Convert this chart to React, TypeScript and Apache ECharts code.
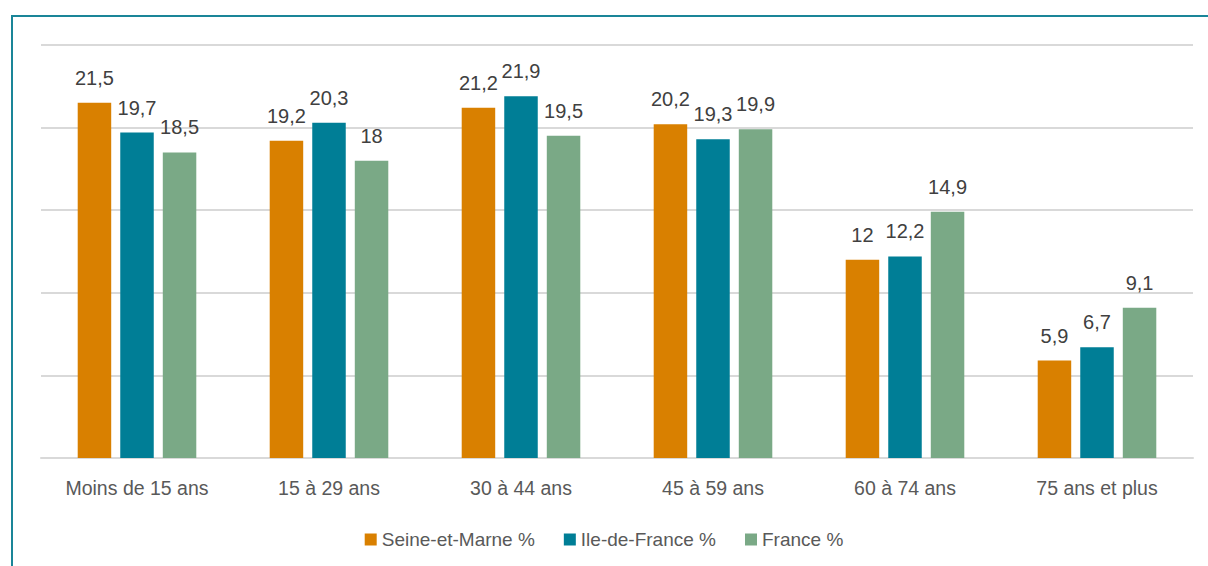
import React, { useEffect, useRef } from "react";
import * as echarts from "echarts";

// Age groups and shares (%) per territory
const categories = [
  "Moins de 15 ans",
  "15 à 29 ans",
  "30 à 44 ans",
  "45 à 59 ans",
  "60 à 74 ans",
  "75 ans et plus",
];
const seineEtMarne = [21.5, 19.2, 21.2, 20.2, 12, 5.9];
const ileDeFrance = [19.7, 20.3, 21.9, 19.3, 12.2, 6.7];
const france = [18.5, 18, 19.5, 19.9, 14.9, 9.1];

const seriesNames = ["Seine-et-Marne %", "Ile-de-France %", "France %"];
const colors = ["#D98000", "#007E96", "#7AA986"];

const FONT = "'Liberation Sans', Arial, sans-serif";

export default function App() {
  const ref = useRef<HTMLDivElement>(null);

  useEffect(() => {
    if (!ref.current) return;
    const chart = echarts.init(ref.current, undefined, { renderer: "svg" });
    const valueLabel = {
      show: true,
      position: "top",
      distance: 15,
      color: "#404040",
      fontFamily: FONT,
      fontSize: 20,
      formatter: (p: any) => String(p.value).replace(".", ","),
    };
    const makeSeries = (name: string, data: number[], color: string) => ({
      name,
      type: "bar",
      data,
      barWidth: 33.5,
      barGap: "27%",
      itemStyle: { color },
      label: valueLabel,
    });
    chart.setOption({
      animation: false,
      backgroundColor: "#ffffff",
      color: colors,
      grid: { left: 41, right: 15, top: 45, bottom: 108 },
      legend: {
        bottom: 12,
        left: "center",
        itemWidth: 12,
        itemHeight: 12,
        itemGap: 29,
        icon: "rect",
        textStyle: { color: "#595959", fontFamily: FONT, fontSize: 19 },
        data: seriesNames,
      },
      xAxis: {
        type: "category",
        data: categories,
        axisLine: { lineStyle: { color: "#D9D9D9", width: 2 } },
        axisTick: { show: false },
        axisLabel: {
          color: "#595959",
          fontFamily: FONT,
          fontSize: 19.5,
          margin: 20,
        },
      },
      yAxis: {
        type: "value",
        min: 0,
        max: 25,
        interval: 5,
        axisLabel: { show: false },
        axisLine: { show: false },
        axisTick: { show: false },
        splitLine: { lineStyle: { color: "#D9D9D9", width: 2 } },
      },
      graphic: [
        {
          type: "polyline",
          shape: { points: [[12, 566], [12, 16], [1208, 16]] },
          style: { fill: "none", stroke: "#1A8598", lineWidth: 2 },
          silent: true,
        },
      ],
      series: [
        makeSeries(seriesNames[0], seineEtMarne, colors[0]),
        makeSeries(seriesNames[1], ileDeFrance, colors[1]),
        makeSeries(seriesNames[2], france, colors[2]),
      ],
    });
    return () => chart.dispose();
  }, []);

  return (
    <div
      ref={ref}
      style={{ position: "absolute", left: 0, top: 0, width: 1208, height: 566 }}
    />
  );
}
